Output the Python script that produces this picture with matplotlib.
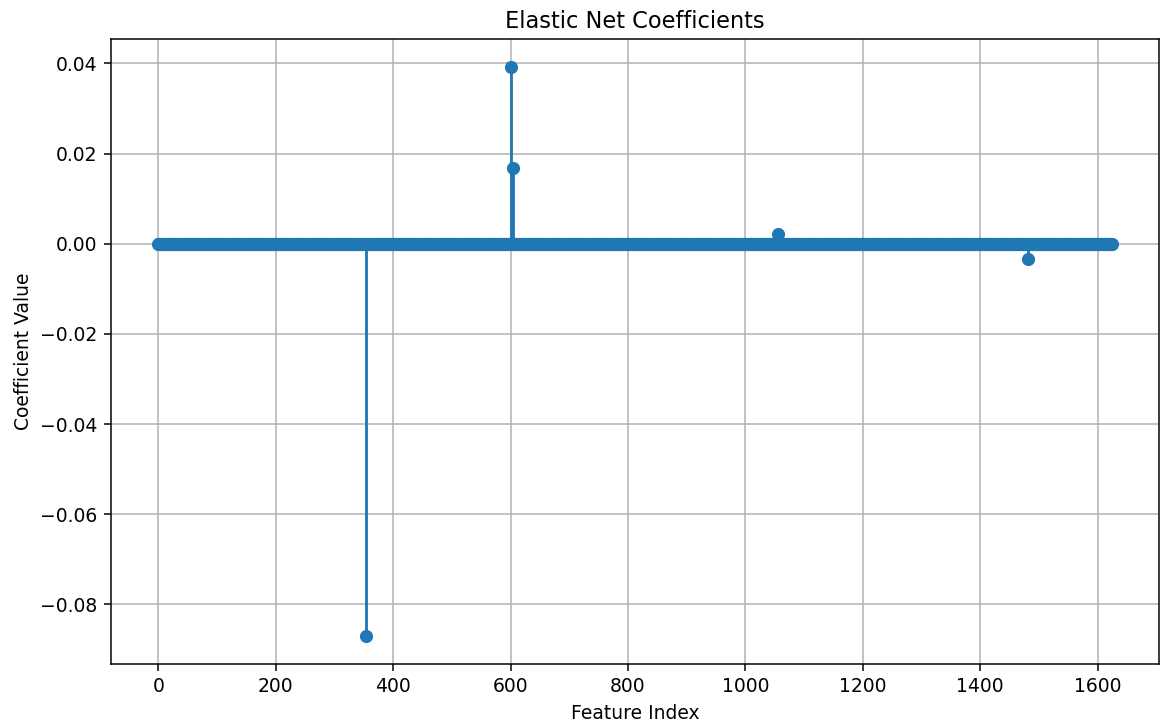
import numpy as np
import matplotlib
matplotlib.use('Agg')
import matplotlib.pyplot as plt

# Elastic net coefficients: almost all zero, a handful of non-zero features
n_features = 1625
nonzero_idx = [353, 600, 604, 1055, 1482]
nonzero_vals = [-0.0869, 0.0391, 0.01675, 0.0022, -0.0035]

coef = np.zeros(n_features)
coef[nonzero_idx] = nonzero_vals

fig = plt.figure(figsize=(1161 / 135, 723 / 135), dpi=135)
ax = fig.add_axes([0.0953, 0.0816, 0.9034, 0.8645])

ax.stem(np.arange(n_features), coef, basefmt='C0-')
ax.set_xlabel('Feature Index')
ax.set_ylabel('Coefficient Value')
ax.set_title('Elastic Net Coefficients')
ax.grid(True)

fig.savefig('out.png', dpi=135)
